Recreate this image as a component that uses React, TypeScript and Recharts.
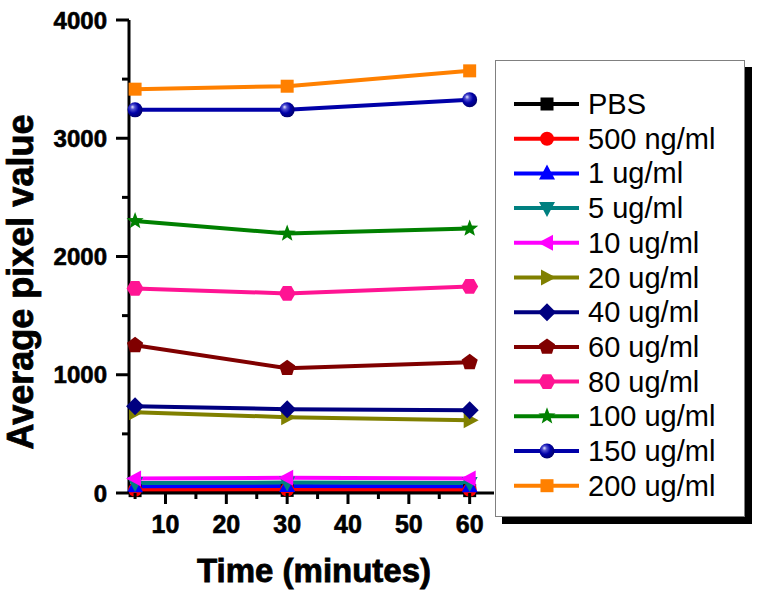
import React from 'react';
import { LineChart, Line, XAxis, YAxis, Legend, Label } from 'recharts';

const times = [5, 30, 60];
const seriesNames = ['PBS', '500 ng/ml', '1 ug/ml', '5 ug/ml', '10 ug/ml', '20 ug/ml', '40 ug/ml', '60 ug/ml', '80 ug/ml', '100 ug/ml', '150 ug/ml', '200 ug/ml'];
const pbs = [20, 22, 20];
const ng500 = [28, 30, 28];
const ug1 = [58, 60, 58];
const ug5 = [85, 88, 85];
const ug10 = [122, 128, 122];
const ug20 = [683, 641, 616];
const ug40 = [734, 709, 700];
const ug60 = [1249, 1055, 1105];
const ug80 = [1730, 1688, 1747];
const ug100 = [2300, 2194, 2236];
const ug150 = [3240, 3240, 3325];
const ug200 = [3415, 3440, 3570];
const seriesValues = [pbs, ng500, ug1, ug5, ug10, ug20, ug40, ug60, ug80, ug100, ug150, ug200];
const seriesColors = ['#000000', '#ff0000', '#0000ff', '#008080', '#ff00ff', '#808000', '#000080', '#800000', '#ff1493', '#008000', '#0000a8', '#ff8000'];
const seriesShapes = ['square', 'circle', 'up', 'down', 'left', 'right', 'diamond', 'pentagon', 'hexagon', 'star', 'sphere', 'square'];
const yTicks = [0, 500, 1000, 1500, 2000, 2500, 3000, 3500, 4000];
const xTicks = [5, 10, 15, 20, 25, 30, 35, 40, 45, 50, 55, 60];

const data = times.map((t, i) => {
  const row: any = { t };
  seriesNames.forEach((n, k) => { row[n] = seriesValues[k][i]; });
  return row;
});

const FONT = '"Liberation Sans", Arial, Helvetica, sans-serif';

const poly = (cx: number, cy: number, n: number, r: number, start: number) => {
  const pts: string[] = [];
  for (let k = 0; k < n; k++) {
    const a = (start + (360 / n) * k) * Math.PI / 180;
    pts.push(`${cx + r * Math.cos(a)},${cy + r * Math.sin(a)}`);
  }
  return pts.join(' ');
};

const star = (cx: number, cy: number, ro: number, ri: number) => {
  const pts: string[] = [];
  for (let k = 0; k < 10; k++) {
    const r = k % 2 === 0 ? ro : ri;
    const a = (-90 + 36 * k) * Math.PI / 180;
    pts.push(`${cx + r * Math.cos(a)},${cy + r * Math.sin(a)}`);
  }
  return pts.join(' ');
};

const Marker = ({ shape, cx, cy, color }: any) => {
  switch (shape) {
    case 'square':
      return <rect x={cx - 6.5} y={cy - 6.5} width={13} height={13} fill={color} />;
    case 'circle':
      return <circle cx={cx} cy={cy} r={7} fill={color} />;
    case 'up':
      return <polygon points={`${cx},${cy - 9} ${cx + 8},${cy + 6} ${cx - 8},${cy + 6}`} fill={color} />;
    case 'down':
      return <polygon points={`${cx},${cy + 9} ${cx + 8},${cy - 6} ${cx - 8},${cy - 6}`} fill={color} />;
    case 'left':
      return <polygon points={`${cx - 9},${cy} ${cx + 6},${cy - 8} ${cx + 6},${cy + 8}`} fill={color} />;
    case 'right':
      return <polygon points={`${cx + 9},${cy} ${cx - 6},${cy - 8} ${cx - 6},${cy + 8}`} fill={color} />;
    case 'diamond':
      return <polygon points={poly(cx, cy, 4, 9, -90)} fill={color} />;
    case 'pentagon':
      return <polygon points={poly(cx, cy, 5, 8.5, -90)} fill={color} />;
    case 'hexagon':
      return <polygon points={poly(cx, cy, 6, 8.5, 0)} fill={color} />;
    case 'star':
      return <polygon points={star(cx, cy, 9, 3.8)} fill={color} />;
    case 'sphere':
      return <circle cx={cx} cy={cy} r={7.5} fill="url(#sphereGrad)" />;
    default:
      return <circle cx={cx} cy={cy} r={6} fill={color} />;
  }
};

const makeDot = (k: number) => (p: any) => (
  <g key={`dot-${k}-${p.index}`}>
    <Marker shape={seriesShapes[k]} cx={p.cx} cy={p.cy} color={seriesColors[k]} />
  </g>
);

const YTick = (props: any) => {
  const { x, y, payload } = props;
  const major = payload.value % 1000 === 0;
  return (
    <g>
      <line x1={x - (major ? 13 : 7)} x2={x} y1={y} y2={y} stroke="#000" strokeWidth={3} />
      {major && (
        <text x={x - 22} y={y} dy="0.36em" textAnchor="end" fontFamily={FONT} fontWeight="bold" fontSize={24} fill="#000" stroke="#000" strokeWidth={0.6}>
          {payload.value}
        </text>
      )}
    </g>
  );
};

const XTick = (props: any) => {
  const { x, y, payload } = props;
  const major = payload.value % 10 === 0;
  return (
    <g>
      <line x1={x} x2={x} y1={y} y2={y + (major ? 11 : 6)} stroke="#000" strokeWidth={3} />
      {major && (
        <text x={x} y={y + 40} textAnchor="middle" fontFamily={FONT} fontWeight="bold" fontSize={25} fill="#000" stroke="#000" strokeWidth={0.6}>
          {payload.value}
        </text>
      )}
    </g>
  );
};

const renderLegend = (props: any) => {
  const payload = [...(props.payload || [])].sort(
    (a: any, b: any) => seriesNames.indexOf(a.value) - seriesNames.indexOf(b.value)
  );
  return (
    <div style={{ position: 'relative', width: 250, height: 457 }}>
      <div style={{ position: 'absolute', left: 7, top: 7, width: 250, height: 457, background: '#000' }} />
      <div style={{ position: 'absolute', left: 0, top: 0, width: 248, height: 455, background: '#fff', border: '1px solid #808080' }}>
        <svg width={248} height={455} style={{ display: 'block' }}>
          {payload.map((entry: any, i: number) => {
            const k = seriesNames.indexOf(entry.value);
            const cy = 43 + i * 34.7;
            return (
              <g key={entry.value}>
                <line x1={18} x2={83} y1={cy} y2={cy} stroke={seriesColors[k]} strokeWidth={4} />
                <Marker shape={seriesShapes[k]} cx={51} cy={cy} color={seriesColors[k]} />
                <text x={92} y={cy + 10} fontFamily={FONT} fontSize={29} fill="#000">{entry.value}</text>
              </g>
            );
          })}
        </svg>
      </div>
    </div>
  );
};

export default function App() {
  return (
    <div style={{ position: 'absolute', left: 0, top: 0, width: 761, height: 596, background: '#fff' }}>
      <LineChart width={761} height={596} data={data} margin={{ top: 20, right: 267, bottom: 63, left: 59 }}>
        <defs>
          <radialGradient id="sphereGrad" cx="0.4" cy="0.4" r="0.6" fx="0.32" fy="0.3">
            <stop offset="0%" stopColor="#e8e8ff" />
            <stop offset="25%" stopColor="#5050d0" />
            <stop offset="60%" stopColor="#0000a8" />
            <stop offset="100%" stopColor="#000070" />
          </radialGradient>
        </defs>
        <XAxis
          dataKey="t"
          type="number"
          domain={[4, 64]}
          ticks={xTicks}
          interval={0}
          height={40}
          tickSize={0}
          tickMargin={0}
          tickLine={false}
          tick={<XTick />}
          axisLine={{ stroke: '#000', strokeWidth: 3 }}
        >
          <Label
            content={() => (
              <text x={314} y={582} textAnchor="middle" fontFamily={FONT} fontWeight="bold" fontSize={33} fill="#000" stroke="#000" strokeWidth={0.8}>
                Time (minutes)
              </text>
            )}
          />
        </XAxis>
        <YAxis
          type="number"
          domain={[0, 4000]}
          ticks={yTicks}
          interval={0}
          width={70}
          tickSize={0}
          tickMargin={0}
          tickLine={false}
          tick={<YTick />}
          axisLine={{ stroke: '#000', strokeWidth: 3 }}
        >
          <Label
            content={() => (
              <text x={33} y={282} transform="rotate(-90 33 282)" textAnchor="middle" fontFamily={FONT} fontWeight="bold" fontSize={36} fill="#000" stroke="#000" strokeWidth={0.8}>
                Average pixel value
              </text>
            )}
          />
        </YAxis>
        <Legend
          layout="vertical"
          align="center"
          verticalAlign="middle"
          content={renderLegend}
          wrapperStyle={{ position: 'absolute', left: 495, top: 60, width: 258, height: 465 }}
        />
        {seriesNames.map((n, k) => (
          <Line
            key={n}
            dataKey={n}
            name={n}
            stroke={seriesColors[k]}
            strokeWidth={4}
            dot={makeDot(k)}
            activeDot={false}
            isAnimationActive={false}
          />
        ))}
      </LineChart>
    </div>
  );
}
